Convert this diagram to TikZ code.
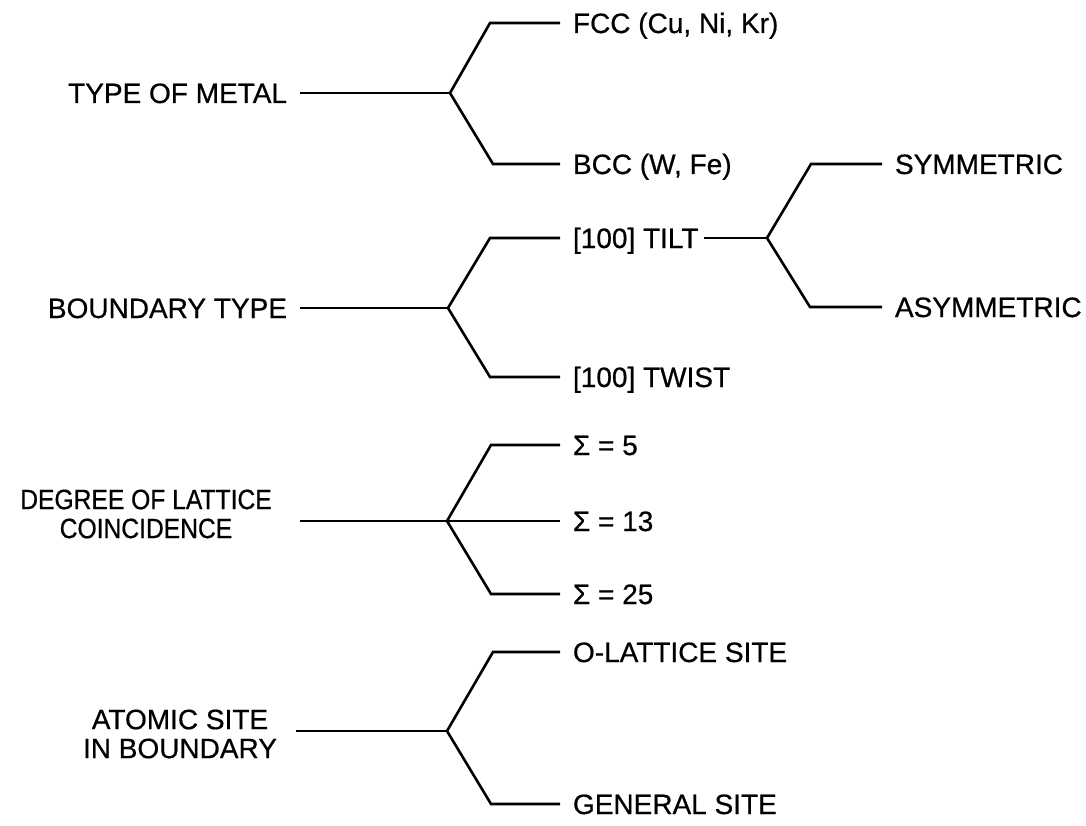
\documentclass[tikz,border=0pt]{standalone}
\usepackage{fontspec}
\setmainfont{Liberation Sans}
\begin{document}
\begin{tikzpicture}[x=1pt,y=-1pt,
  br/.style={line width=2.6pt, line join=miter},
  lab/.style={font=\fontsize{28}{30}\selectfont\addfontfeatures{FakeBold=0.6}, inner sep=0pt, outer sep=13pt, text height=20pt, text depth=0pt},
  lab2/.style={inner sep=0pt, align=center}]
\useasboundingbox (0,0) rectangle (1086,826);
% ---- Type of metal
\coordinate (j1) at (450,93);
\coordinate (c1a) at (490,23);
\coordinate (c1b) at (493,164);
\node[lab,anchor=east] (tm) at (300,93) {TYPE OF METAL};
\node[lab,anchor=west] (fcc) at (560,23) {FCC (Cu, Ni, Kr)};
\node[lab,anchor=west] (bcc) at (560,164) {BCC (W, Fe)};
\draw[br] (tm.east) -- (j1);
\draw[br] (fcc.west) -- (c1a) -- (j1) -- (c1b) -- (bcc.west);
% ---- Boundary type
\coordinate (j2) at (448,308);
\coordinate (c2a) at (490,238);
\coordinate (c2b) at (490,377);
\node[lab,anchor=east] (bt) at (300,308) {BOUNDARY TYPE};
\node[lab,anchor=west] (tilt) at (560,238) {[100] TILT};
\node[lab,anchor=west] (twist) at (560,377) {[100] TWIST};
\draw[br] (bt.east) -- (j2);
\draw[br] (tilt.west) -- (c2a) -- (j2) -- (c2b) -- (twist.west);
\coordinate (j3) at (767,238);
\coordinate (c3a) at (811,164);
\coordinate (c3b) at (810,307);
\node[lab,anchor=west] (sym) at (882,164) {SYMMETRIC};
\node[lab,anchor=west] (asym) at (882,307) {ASYMMETRIC};
\draw[br] ([xshift=-8pt]tilt.east) -- (j3);
\draw[br] (sym.west) -- (c3a) -- (j3) -- (c3b) -- (asym.west);
% ---- Degree of lattice coincidence
\node[lab2,font=\fontsize{28}{29}\selectfont\addfontfeatures{FakeStretch=0.88,FakeBold=0.6}] (dl) at (146,514) {DEGREE OF LATTICE\\COINCIDENCE};
\coordinate (dls) at (300,521);
\coordinate (j4) at (447,521);
\coordinate (c4a) at (491,445);
\coordinate (c4b) at (491,594);
\node[lab,anchor=west] (s5) at (560,445) {Σ = 5};
\node[lab,anchor=west] (s13) at (560,521) {Σ = 13};
\node[lab,anchor=west] (s25) at (560,594) {Σ = 25};
\draw[br] (dls) -- (j4) -- (s13.west);
\draw[br] (s5.west) -- (c4a) -- (j4) -- (c4b) -- (s25.west);
% ---- Atomic site in boundary
\node[lab2,font=\fontsize{28}{29}\selectfont\addfontfeatures{FakeBold=0.6}] (as) at (180,734) {ATOMIC SITE\\IN BOUNDARY};
\coordinate (ass) at (296,731);
\coordinate (j5) at (447,731);
\coordinate (c5a) at (493,652);
\coordinate (c5b) at (491,804);
\node[lab,anchor=west] (os) at (560,652) {O-LATTICE SITE};
\node[lab,anchor=west] (gs) at (560,804) {GENERAL SITE};
\draw[br] (ass) -- (j5);
\draw[br] (os.west) -- (c5a) -- (j5) -- (c5b) -- (gs.west);
\end{tikzpicture}
\end{document}
